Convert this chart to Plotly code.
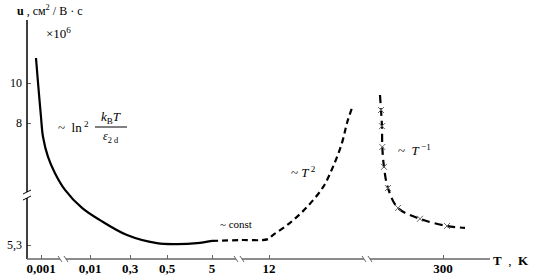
import numpy as np
import plotly.graph_objects as go

# ---------------- data (T in K, u in 10^6 cm^2/(V*s)) ----------------
low_T = [0.00079, 0.00087, 0.001, 0.0011, 0.00139, 0.00193, 0.00309, 0.00687,
         0.0234, 0.232, 0.435, 0.834, 2.32, 5.0]
low_u = [11.25, 10.0, 8.3, 7.69, 7.25, 6.89, 6.52, 6.12,
         5.85, 5.52, 5.34, 5.32, 5.34, 5.39]

mid_T = [5.0, 7.7, 11.8, 12.9, 17.7, 24.2, 32.6, 39.2, 46.3, 50.8, 55.7]
mid_u = [5.39, 5.41, 5.43, 5.52, 5.79, 6.14, 6.58, 7.03, 7.56, 8.0, 8.75]

high_T = [93.5, 95.3, 97.0, 97.6, 100.7, 108.4, 130.5, 196.0, 323.0, 451.0]
high_u = [9.4, 8.65, 7.93, 7.47, 7.03, 6.56, 6.12, 5.88, 5.72, 5.68]
mark_T = high_T[1:9]
mark_u = high_u[1:9]

x_tick_T = [0.001, 0.01, 0.3, 0.5, 5, 12, 300]
x_tick_text = ["0,001", "0,01", "0,3", "0,5", "5", "12", "300"]
y_tick_u = [5.3, 8, 10]
y_tick_text = ["5,3", "8", "10"]

# ---------------- schematic (broken) scales ----------------
X_ANCH_T = [1e-4, 0.001, 0.01, 0.3, 0.5, 5, 12, 300, 1000]
X_ANCH_P = [-8, 41, 90, 130, 167, 212, 269, 443, 508]
Y_ANCH_U = [4, 5.3, 8, 10, 12]
Y_ANCH_P = [303.7, 245, 123, 83, 43]

L, R, T_, B = 27, 490, 20, 259   # plot area edges (position units)


def xs(T):
    return np.interp(np.log10(np.asarray(T, float)), np.log10(X_ANCH_T), X_ANCH_P)


def ys(u):
    return np.interp(np.asarray(u, float), Y_ANCH_U, Y_ANCH_P)


def px(x):
    return (x - L) / (R - L)


def py(y):
    return (B - y) / (B - T_)


SERIF = "Liberation Serif, DejaVu Serif, serif"

fig = go.Figure()
fig.add_trace(go.Scatter(x=xs(low_T), y=ys(low_u), mode="lines",
                         line=dict(color="black", width=2.2, shape="spline"),
                         cliponaxis=False))
fig.add_trace(go.Scatter(x=xs(mid_T), y=ys(mid_u), mode="lines",
                         line=dict(color="black", width=2.2, dash="6px,4px", shape="spline"),
                         cliponaxis=False))
fig.add_trace(go.Scatter(x=xs(high_T), y=ys(high_u), mode="lines",
                         line=dict(color="black", width=2.2, dash="8px,5px", shape="spline"),
                         cliponaxis=False))
fig.add_trace(go.Scatter(x=xs(mark_T), y=ys(mark_u), mode="markers",
                         marker=dict(symbol="x-thin", size=6, color="#666",
                                     line=dict(color="#666", width=1)),
                         cliponaxis=False))

# axis lines with breaks
shapes = []
ax_col_y = "black"
ax_col_x = "#666"


def seg(x0, y0, x1, y1, color, width):
    shapes.append(dict(type="line", xref="paper", yref="paper",
                       x0=px(x0), x1=px(x1), y0=py(y0), y1=py(y1),
                       line=dict(color=color, width=width)))


# y axis with break
seg(27, 20, 27, 192, ax_col_y, 1.5)
seg(27, 198, 27, 259, ax_col_y, 1.5)
for yy in (192, 198):
    seg(23, yy + 2, 31, yy - 2, ax_col_y, 1)
# x axis with breaks
for a, b in [(27, 60), (66, 236), (242, 364), (370, 490)]:
    seg(a, 259, b, 259, ax_col_x, 1.5)
for xx in (60, 66, 236, 242, 364, 370):
    seg(xx - 2, 256, xx + 2, 262, ax_col_x, 1)
# fraction bar
seg(95, 127, 127, 127, "black", 1)

ann = []


def txt(x, y, s, size=12, xanchor="left"):
    ann.append(dict(x=px(x), y=py(y), xref="paper", yref="paper", text=s,
                    showarrow=False, xanchor=xanchor, yanchor="middle",
                    font=dict(family=SERIF, size=size, color="black")))


txt(15, 11, "<b>u</b> , см<sup>2</sup> / В · с", 12)
txt(44, 33, "×10<sup>6</sup>", 13)
txt(56, 127, "~  ln<sup> 2</sup>", 13)
txt(111, 117, "<i>k</i><sub>B</sub><i>T</i>", 13, "center")
txt(111, 137, "<i>ε</i><sub>2 d</sub>", 12, "center")
txt(218, 224, "~ const", 11)
txt(289, 172, "~ <i>T</i><sup> 2</sup>", 13)
txt(396, 150, "~  <i>T</i><sup> −1</sup>", 13)
txt(491, 260, "<b>T</b>  ,  <b>K</b>", 13)

fig.update_layout(
    template="none",
    width=537, height=279,
    margin=dict(l=L, r=537 - R, t=T_, b=279 - B, pad=0),
    paper_bgcolor="white", plot_bgcolor="white",
    showlegend=False,
    shapes=shapes, annotations=ann,
    xaxis=dict(range=[L, R], showgrid=False, zeroline=False, showline=False,
               automargin=False,
               tickmode="array", tickvals=list(xs(x_tick_T)),
               ticktext=["<b>%s</b>" % t for t in x_tick_text],
               ticks="inside", ticklen=4, tickcolor="#666", tickwidth=1,
               tickfont=dict(family=SERIF, size=13, color="black")),
    yaxis=dict(range=[B, T_], showgrid=False, zeroline=False, showline=False,
               automargin=False,
               tickmode="array", tickvals=list(ys(y_tick_u)), ticktext=y_tick_text,
               ticks="inside", ticklen=4, tickcolor="#666", tickwidth=1,
               ticklabelstandoff=4,
               tickfont=dict(family=SERIF, size=12, color="black")),
)

fig.write_html("out.html", config={"displayModeBar": False},
               post_script="document.body.style.margin='0';document.body.style.overflow='hidden';")
